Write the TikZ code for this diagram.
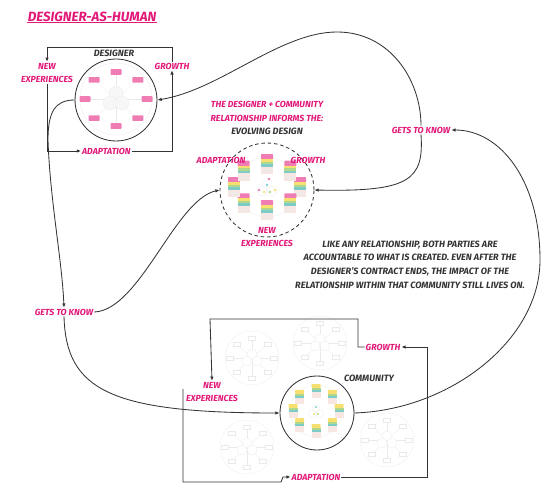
\documentclass[tikz,border=0pt]{standalone}
\usepackage{fontspec}
\setmainfont{Fira Sans}
\usetikzlibrary{arrows.meta}
\definecolor{ink}{RGB}{52,52,52}
\definecolor{hotpink}{RGB}{226,24,120}
\definecolor{cardpink}{RGB}{240,124,180}
\definecolor{stackyellow}{RGB}{247,224,112}
\definecolor{stackgreen}{RGB}{176,216,140}
\definecolor{stackteal}{RGB}{126,204,200}
\definecolor{stackpale}{RGB}{247,230,226}
\definecolor{faintgray}{RGB}{234,234,234}
\tikzstyle{every path}=[line width=1.2pt]
\tikzstyle{tag}=[text=hotpink, font=\bfseries\itshape\fontsize{12.5}{19.8}\selectfont, align=center, inner sep=1pt]
\tikzstyle{caption}=[text=ink, font=\bfseries\itshape\fontsize{13}{19.4}\selectfont, align=center, inner sep=1pt]
\tikzstyle{ring}=[circle, draw=ink, line width=1.2pt, inner sep=0pt]
\tikzstyle{flow}=[draw=ink, -{Latex[length=6pt,width=5pt]}]
\tikzstyle{ghost}=[draw=faintgray, line width=0.4pt]

\begin{document}
\begin{tikzpicture}[x=0.05cm, y=-0.05cm]
  \useasboundingbox (0,0) rectangle (554,499);

  \node[tag, font=\bfseries\itshape\fontsize{19}{22}\selectfont] (title) at (92,17) {DESIGNER-AS-HUMAN};
  \draw[hotpink, line width=1.4pt] (title.south west) -- (title.south east);

  % designer
  \node[ring, minimum size=4.1cm] (designer) at (116,100) {};
  \node[caption] (designerlbl) at (114,53) {DESIGNER};
  \begin{scope}[shift={(116,99)}]
    \draw[ghost] (0,0) circle (36);
    \foreach \a in {0,45,...,315} {
      \draw[ghost] (0,0) -- (\a:31 and 27);
      \begin{scope}[shift={(\a:31 and 27)}]
        \fill[cardpink, rounded corners=1pt] (-5.5,-2.8) rectangle (5.5,2.8);
      \end{scope}
    }
    \foreach \p in {(0,-6),(-6,4),(6,4)}
      \draw[ghost, fill=gray!6] \p circle (7);
  \end{scope}

  \node[tag] (dnew) at (47,73) {NEW\\EXPERIENCES};
  \node[tag, anchor=west] (dadapt) at (81,151) {ADAPTATION};
  \node[tag] (dgrowth) at (172,66) {GROWTH};
  \coordinate (dtr) at (172,47);
  \coordinate (dtl) at (47,47);
  \draw[flow] (dgrowth.north) -- (dtr) -- (dtl) -- (dnew.north);
  \draw[flow] (dnew.south) |- (dadapt.west);
  \draw[flow] (dadapt.east) -| (dgrowth.south);

  % evolving design
  \node[tag] (informs) at (267,111) {THE DESIGNER + COMMUNITY\\RELATIONSHIP INFORMS THE:};
  \node[caption] (evolvinglbl) at (267,131) {EVOLVING DESIGN};
  \node[ring, dash pattern=on 5pt off 4pt, minimum size=4.7cm] (evolving) at (267,190) {};
  \begin{scope}[shift={(267,187)}]
    \draw[ghost] (0,0) circle (30);
    \foreach \a in {0,45,...,315} {
      \begin{scope}[shift={(\a:33 and 23)}]
        \fill[cardpink, rounded corners=1pt] (-6,-10) rectangle (6,-4.5);
        \fill[stackyellow] (-6,-5) rectangle (6,-2.5);
        \fill[stackgreen] (-6,-2.5) rectangle (6,0);
        \fill[stackteal] (-6,0) rectangle (6,2.5);
        \fill[stackpale] (-6,2.5) rectangle (6,10);
        \draw[ghost] (-4,5) -- (4,5) (-4,7.5) -- (4,7.5);
      \end{scope}
    }
    \foreach \p in {(0,-4),(-5,4),(5,4)}
      \draw[ghost, fill=white] \p circle (5);
    \fill[cardpink] (-8,3) circle (1.3) (2,-8) circle (1.3);
    \fill[stackyellow] (-3,5) circle (1.3) (8,3) circle (1.3);
    \fill[stackgreen] (3,5) circle (1.3);
    \fill[stackteal] (0,-2) circle (1.3);
  \end{scope}
  \node[tag] (eadapt) at (221,160) {ADAPTATION};
  \node[tag] (egrowth) at (308,160) {GROWTH};
  \node[tag] (enew) at (267,237) {NEW\\EXPERIENCES};

  \node[caption] (accountable) at (410,264.5) {LIKE ANY RELATIONSHIP, BOTH PARTIES ARE\\ACCOUNTABLE TO WHAT IS CREATED. EVEN AFTER THE\\DESIGNER’S CONTRACT ENDS, THE IMPACT OF THE\\RELATIONSHIP WITHIN THAT COMMUNITY STILL LIVES ON.};

  % community
  \foreach \cx/\cy in {252/358, 320/343, 247/447, 387/440} {
    \begin{scope}[shift={(\cx,\cy)}]
      \draw[ghost] (0,0) circle (27);
      \foreach \a in {0,45,...,315} {
        \draw[ghost] (0,0) -- (\a:22 and 20);
        \begin{scope}[shift={(\a:22 and 20)}]
          \draw[ghost, fill=white] (-3.5,-1.8) rectangle (3.5,1.8);
        \end{scope}
      }
      \foreach \p in {(0,-4),(-5,3),(5,3)}
        \draw[ghost, fill=white] \p circle (5);
    \end{scope}
  }
  \node[ring, fill=white, minimum size=3.7cm] (community) at (317,413) {};
  \node[caption] (communitylbl) at (369,378) {COMMUNITY};
  \begin{scope}[shift={(316,411)}]
    \draw[ghost] (0,0) circle (26);
    \foreach \a in {0,45,...,315} {
      \begin{scope}[shift={(\a:23 and 20)}]
        \fill[stackyellow, rounded corners=1pt] (-4.5,-7) rectangle (4.5,-3);
        \fill[stackgreen] (-4.5,-3.2) rectangle (4.5,-1);
        \fill[stackteal] (-4.5,-1) rectangle (4.5,1.2);
        \fill[stackpale] (-4.5,1.2) rectangle (4.5,7);
      \end{scope}
    }
    \foreach \p in {(0,-3),(-4,3),(4,3)}
      \draw[ghost, fill=white] \p circle (4);
    \fill[stackyellow] (-2,3) circle (1.1);
    \fill[stackgreen] (2,3) circle (1.1);
    \fill[stackteal] (0,-4) circle (1.1);
  \end{scope}

  \node[tag] (cnew) at (212,392) {NEW\\EXPERIENCES};
  \node[tag] (cgrowth) at (383,347) {GROWTH};
  \node[tag] (cadapt) at (316,477) {ADAPTATION};
  \coordinate (ctopl) at (210,319);
  \coordinate (ctopr) at (358,319);
  \coordinate (cleft) at (183,389);
  \coordinate (cbotl) at (183,482);
  \coordinate (cstep) at (281,482);
  \coordinate (cright) at (427,477);
  \draw[flow] (cgrowth.west) -| (ctopr) -- (ctopl) -- (cnew.north);
  \draw[flow] (cleft) -- (cbotl) -- (cstep) -- ++(2,-5) -- (cadapt.west);
  \draw[flow] (cadapt.east) -- (cright) |- (cgrowth.east);

  % gets to know
  \node[tag, fill=white] (knowleft) at (64,312) {GETS TO KNOW};
  \node[tag, fill=white] (knowright) at (421,130) {GETS TO KNOW};
  \draw[flow] (designer.west) .. controls (55,100) and (48,112) .. (48,140)
    .. controls (50,200) and (62,260) .. (knowleft.north);
  \draw[flow] (knowleft.east) .. controls (140,310) and (175,200) .. (evolving.west);
  \draw[flow] (knowleft.south) .. controls (66,390) and (110,413) .. (community.west);
  \draw[flow] (community.east) .. controls (450,410) and (540,340) .. (540,260)
    .. controls (540,180) and (500,130) .. (knowright.east);
  \draw[flow] (knowright.north) .. controls (421,80) and (390,32) .. (337,32)
    .. controls (280,32) and (220,90) .. (designer.east);
  \draw[flow] (knowright.south) .. controls (424,180) and (410,192) .. (evolving.east);
\end{tikzpicture}
\end{document}
